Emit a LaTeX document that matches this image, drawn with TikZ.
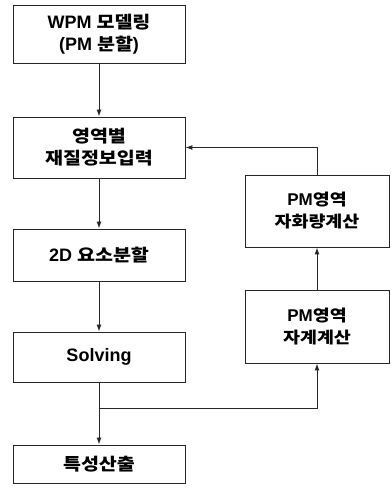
\documentclass[tikz,border=0pt]{standalone}
\usepackage{fontspec}
\setmainfont{Liberation Sans}
\newfontfamily\krfont[FakeStretch=1.15]{Noto Sans CJK KR}
\newcommand{\K}[1]{{\krfont\bfseries\fontsize{17}{22}\selectfont #1}}
\newcommand{\KR}[1]{{\krfont\bfseries\fontsize{16}{22}\selectfont #1}}
\newcommand{\Kr}[1]{{\krfont\fontsize{16}{22}\selectfont #1}}
\usetikzlibrary{arrows.meta}
\tikzset{
  box/.style={draw=black!85, line width=0.9pt, fill=white, align=center,
    font=\fontsize{18}{22}\selectfont\bfseries, inner sep=0pt},
  rbox/.style={box, font=\fontsize{17}{22}\selectfont\bfseries},
  conn/.style={draw=black!85, line width=1pt, -{Latex[length=7pt,width=5pt]}}
}
\begin{document}
\begin{tikzpicture}[x=1pt,y=-1pt]
\useasboundingbox (0,0) rectangle (391,493);
\node[box, minimum width=172pt, minimum height=58pt] (b1) at (99,34) {WPM \K{모델링}\\(PM \K{분할})};
\node[box, minimum width=172pt, minimum height=61pt] (b2) at (99,147.5) {\K{영역별}\\\K{재질정보입력}};
\node[box, minimum width=172pt, minimum height=52pt] (b3) at (99,255) {2D \K{요소분할}};
\node[box, minimum width=172pt, minimum height=50pt] (b4) at (99,357) {Solving};
\node[box, minimum width=172pt, minimum height=38pt] (b5) at (99,464) {\K{특성산출}};
\node[rbox, minimum width=144pt, minimum height=72pt] (m2) at (317,211) {PM\KR{영역}\\\Kr{자화량계산}};
\node[rbox, minimum width=144pt, minimum height=73pt] (m1) at (317,326.5) {PM\KR{영역}\\\Kr{자계계산}};
\coordinate (j) at (99,408);
\draw[conn] (b1.south) -- (b2.north);
\draw[conn] (b2.south) -- (b3.north);
\draw[conn] (b3.south) -- (b4.north);
\draw[conn] (b4.south) -- (b5.north);
\draw[conn] (j) -| (m1.south);
\draw[conn] (m1.north) -- (m2.south);
\draw[conn] (m2.north) |- (b2.east);
\end{tikzpicture}
\end{document}
